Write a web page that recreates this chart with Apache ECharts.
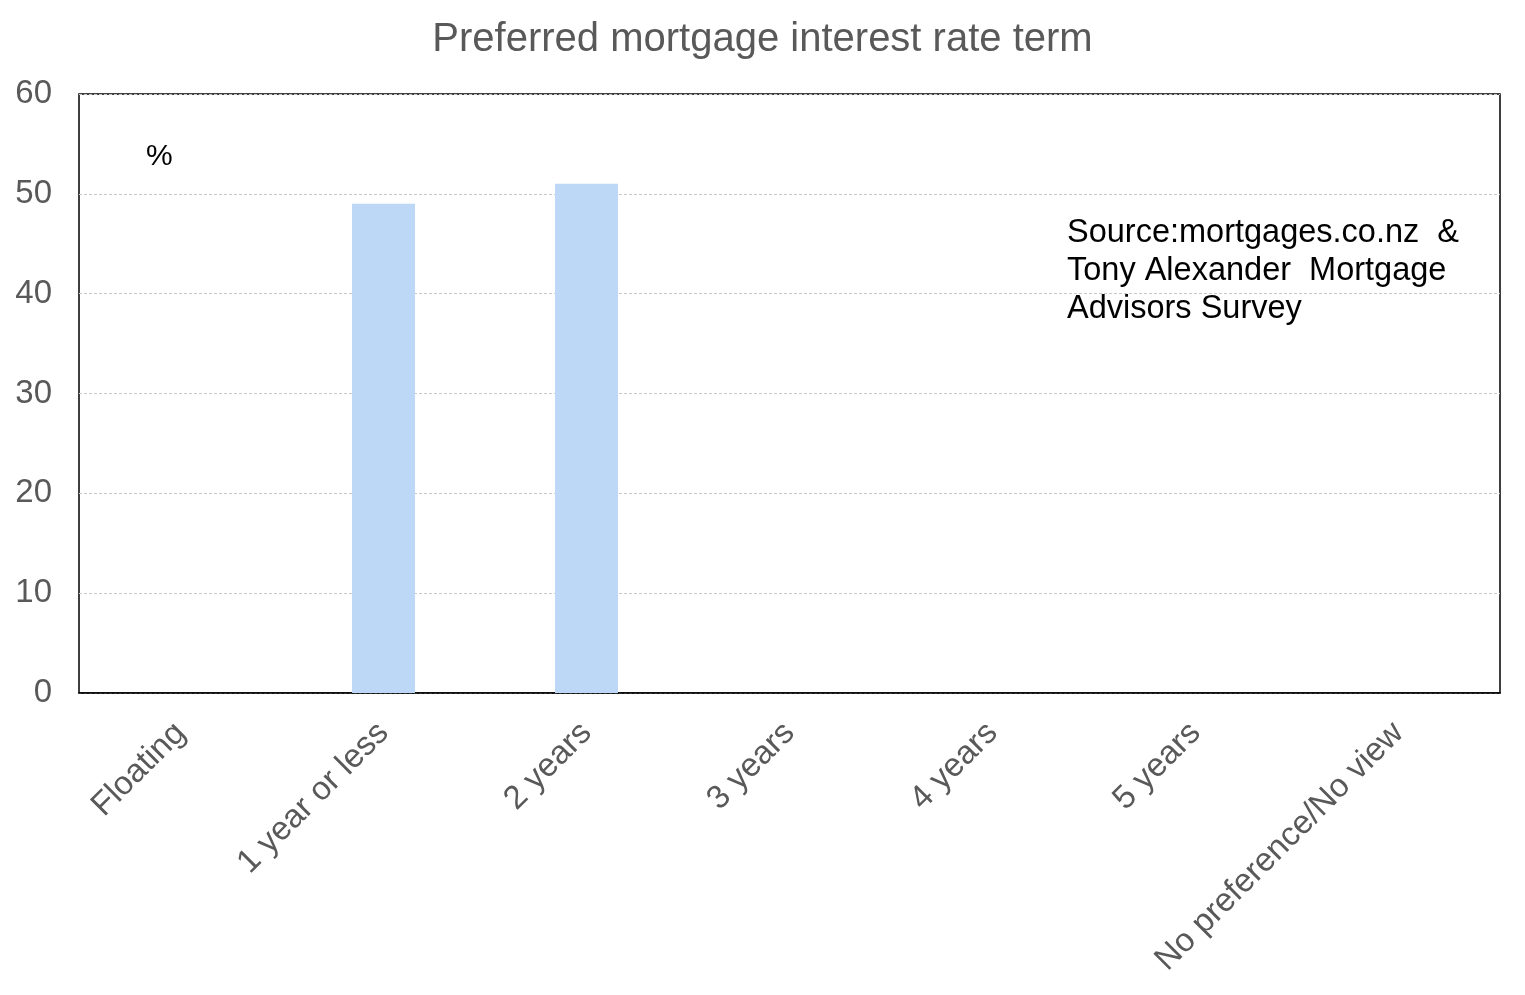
<!DOCTYPE html>
<html>
<head>
<meta charset="utf-8">
<script src="https://cdn.jsdelivr.net/npm/echarts@6/dist/echarts.min.js"></script>
<style>html,body{margin:0;padding:0;background:#fff}#c{width:1525px;height:995px}</style>
</head>
<body>
<div id="c"></div>
<script>
var categories = ["Floating", "1 year or less", "2 years", "3 years", "4 years", "5 years", "No preference/No view"];
var values = [0, 49, 51, 0, 0, 0, 0];
var yTicks = [0, 10, 20, 30, 40, 50, 60];

var chart = echarts.init(document.getElementById('c'));
chart.setOption({
  animation: false,
  backgroundColor: '#fff',
  title: {
    text: 'Preferred mortgage interest rate term',
    left: 'center',
    top: 15,
    textStyle: { fontFamily: 'Liberation Sans, Arial', fontSize: 40, fontWeight: 'normal', color: '#595959' }
  },
  grid: { left: 79, right: 25, top: 94, bottom: 302, show: true, borderColor: '#000', borderWidth: 1.5, backgroundColor: 'transparent' },
  xAxis: {
    type: 'category',
    data: categories,
    axisLine: { show: true, lineStyle: { color: '#000', width: 1.5 } },
    axisTick: { show: false },
    axisLabel: { rotate: 45, interval: 0, margin: 35, fontFamily: 'Liberation Sans, Arial', fontSize: 33, color: '#595959' }
  },
  yAxis: {
    type: 'value',
    min: yTicks[0],
    max: yTicks[yTicks.length - 1],
    interval: 10,
    axisLine: { show: false },
    axisTick: { show: false },
    axisLabel: { margin: 27, fontFamily: 'Liberation Sans, Arial', fontSize: 33, color: '#595959' },
    splitLine: { show: true, lineStyle: { color: '#c8c8c8', width: 1, type: [3, 2] } }
  },
  graphic: [
    { type: 'text', left: 146, top: 142, style: { text: '%', font: '30px "Liberation Sans", Arial', fill: '#000' } },
    { type: 'text', left: 1067, top: 214, style: { text: 'Source:mortgages.co.nz  &\nTony Alexander  Mortgage\nAdvisors Survey', font: '32.5px "Liberation Sans", Arial', fill: '#000', lineHeight: 38 } }
  ],
  series: [{
    type: 'bar',
    data: values,
    barWidth: 63,
    itemStyle: { color: '#bdd8f6' }
  }]
});
</script>
</body>
</html>
